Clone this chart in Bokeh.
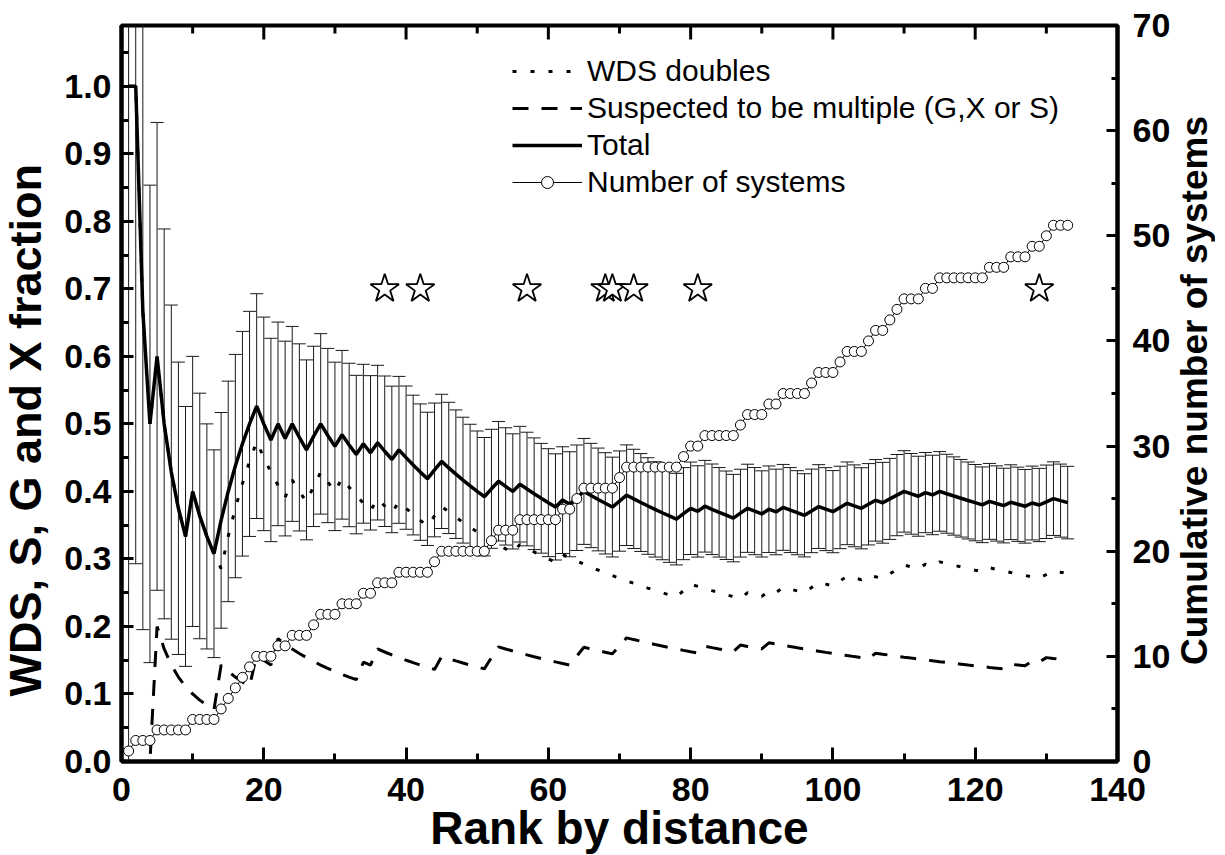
import numpy as np
from bokeh.plotting import figure
from bokeh.layouts import row
from bokeh.models import (Range1d, LinearAxis, FixedTicker, PrintfTickFormatter,
                          Legend, LegendItem, ColumnDataSource, Div)
from bokeh.embed import file_html
from bokeh.resources import INLINE

# ---------------- data ----------------
rank = list(range(1, 134))

# cumulative number of systems (right axis)
n_systems = [1, 2, 2, 2, 3, 3, 3, 3, 3, 4,
             4, 4, 4, 5, 6, 7, 8, 9, 10, 10,
             10, 11, 11, 12, 12, 12, 13, 14, 14, 14,
             15, 15, 15, 16, 16, 17, 17, 17, 18, 18,
             18, 18, 18, 19, 20, 20, 20, 20, 20, 20,
             20, 21, 22, 22, 22, 23, 23, 23, 23, 23,
             23, 24, 24, 25, 26, 26, 26, 26, 26, 27,
             28, 28, 28, 28, 28, 28, 28, 28, 29, 30,
             30, 31, 31, 31, 31, 31, 32, 33, 33, 33,
             34, 34, 35, 35, 35, 35, 36, 37, 37, 37,
             38, 39, 39, 39, 40, 41, 41, 42, 43, 44,
             44, 44, 45, 45, 46, 46, 46, 46, 46, 46,
             46, 47, 47, 47, 48, 48, 48, 49, 49, 50,
             51, 51, 51]

# cumulative number of WDS doubles
wds_counts = [1, 2, 2, 2, 3, 3, 3, 3, 3, 4,
              4, 4, 4, 4, 5, 6, 7, 8, 9, 9,
              9, 9, 9, 10, 10, 10, 11, 12, 12, 12,
              13, 13, 13, 13, 13, 14, 14, 14, 15, 15,
              15, 15, 15, 16, 17, 17, 17, 17, 17, 17,
              17, 17, 17, 17, 17, 18, 18, 18, 18, 18,
              18, 19, 19, 19, 19, 19, 19, 19, 19, 19,
              19, 19, 19, 19, 19, 19, 19, 19, 20, 21,
              21, 21, 21, 21, 21, 21, 21, 22, 22, 22,
              23, 23, 24, 24, 24, 24, 25, 26, 26, 26,
              27, 28, 28, 28, 29, 29, 29, 30, 31, 32,
              32, 32, 33, 33, 34, 34, 34, 34, 34, 34,
              34, 35, 35, 35, 35, 35, 35, 35, 35, 36,
              37, 37, 37]

# cumulative number suspected to be multiple (G, X or S)
suspected_counts = [0, 0, 0, 0, 1, 1, 1, 1, 1, 1,
                    1, 1, 1, 2, 2, 2, 2, 2, 3, 3,
                    3, 4, 4, 4, 4, 4, 4, 4, 4, 4,
                    4, 4, 4, 5, 5, 6, 6, 6, 6, 6,
                    6, 6, 6, 6, 7, 7, 7, 7, 7, 7,
                    7, 8, 9, 9, 9, 9, 9, 9, 9, 9,
                    9, 9, 9, 10, 11, 11, 11, 11, 11, 12,
                    13, 13, 13, 13, 13, 13, 13, 13, 13, 13,
                    13, 14, 14, 14, 14, 14, 15, 15, 15, 15,
                    16, 16, 16, 16, 16, 16, 16, 16, 16, 16,
                    16, 16, 16, 16, 16, 17, 17, 17, 17, 17,
                    17, 17, 17, 17, 17, 17, 17, 17, 17, 17,
                    17, 17, 17, 17, 18, 18, 18, 19, 19, 20,
                    20, 20, 20]

star_ranks = [37, 42, 57, 68, 69, 72, 81, 129]
star_level = [0.7, 0.7, 0.7, 0.7, 0.7, 0.7, 0.7, 0.7]

x_ticks = [0, 20, 40, 60, 80, 100, 120, 140]
x_minor = [10, 30, 50, 70, 90, 110, 130]
left_ticks = [0.0, 0.1, 0.2, 0.3, 0.4, 0.5, 0.6, 0.7, 0.8, 0.9, 1.0]
left_minor = [0.05, 0.15, 0.25, 0.35, 0.45, 0.55, 0.65, 0.75, 0.85, 0.95, 1.05]
right_ticks = [0, 10, 20, 30, 40, 50, 60, 70]
right_minor = [5, 15, 25, 35, 45, 55, 65]

# fractions are the cumulative counts divided by the rank (as in the source chart)
r = np.array(rank, dtype=float)
n_arr = np.array(n_systems, dtype=float)
total_frac = n_arr / r
wds_frac = np.array(wds_counts, dtype=float) / r
sus_frac = np.array(suspected_counts, dtype=float) / r
err = np.sqrt(n_arr) / r

src = ColumnDataSource(dict(rank=rank, total=total_frac, wds=wds_frac, sus=sus_frac,
                            up=total_frac + err, lo=total_frac - err, n=n_systems))

FONT = "Liberation Sans"
Y_TOP = 1.09
FRAME_W = 996
FRAME_H = 736
B_LEFT, B_RIGHT, B_TOP, B_BOTTOM = 71, 56, 25, 92
LEFT_DIV_W, RIGHT_DIV_W = 50, 42
FIG_H = B_TOP + FRAME_H + B_BOTTOM

p = figure(frame_width=FRAME_W, frame_height=FRAME_H,
           min_border_left=B_LEFT, min_border_right=B_RIGHT,
           min_border_top=B_TOP, min_border_bottom=B_BOTTOM,
           x_range=Range1d(0, 140), y_range=Range1d(0, Y_TOP),
           output_backend="svg", toolbar_location=None)
p.extra_y_ranges = {"n": Range1d(0, 70)}
p.grid.visible = False
p.outline_line_color = "black"
p.outline_line_width = 4
p.background_fill_color = "white"
p.border_fill_color = "white"

# error bars
p.segment(x0="rank", x1="rank", y0="lo", y1="up", source=src, line_color="#1a1a1a", line_width=1)
p.scatter(x="rank", y="up", source=src, marker="dash", size=13, line_color="#1a1a1a", line_width=1)
p.scatter(x="rank", y="lo", source=src, marker="dash", size=13, line_color="#1a1a1a", line_width=1)

r_wds = p.line(x="rank", y="wds", source=src, line_color="black", line_width=3, line_dash="4 14")
r_sus = p.line(x="rank", y="sus", source=src, line_color="black", line_width=3, line_dash="16 13")
r_tot = p.line(x="rank", y="total", source=src, line_color="black", line_width=3.5)
r_nl = p.line(x="rank", y="n", source=src, y_range_name="n", line_color="black", line_width=1)
r_nc = p.scatter(x="rank", y="n", source=src, y_range_name="n", marker="circle", size=10,
                 fill_color="white", line_color="black", line_width=1)

p.scatter(star_ranks, star_level, marker="star", size=30, fill_color="white",
          line_color="black", line_width=1.8)

# tick marks along the top edge (mirror of the bottom axis)
px_to_y = Y_TOP / FRAME_H
p.segment(x0=x_ticks, x1=x_ticks, y0=[Y_TOP] * len(x_ticks),
          y1=[Y_TOP - 14 * px_to_y] * len(x_ticks), line_color="black", line_width=3)
p.segment(x0=x_minor, x1=x_minor, y0=[Y_TOP] * len(x_minor),
          y1=[Y_TOP - 8 * px_to_y] * len(x_minor), line_color="black", line_width=3)


def style_axis(ax):
    ax.axis_line_width = 4
    ax.major_tick_line_width = 3
    ax.minor_tick_line_width = 3
    ax.major_tick_out = 0
    ax.minor_tick_out = 0
    ax.major_label_text_font = FONT
    ax.major_label_text_font_style = "bold"
    ax.major_label_text_font_size = "34px"
    ax.major_label_text_color = "black"
    ax.axis_label_text_font = FONT
    ax.axis_label_text_font_style = "bold"
    ax.axis_label_text_color = "black"


xa = p.xaxis[0]
style_axis(xa)
xa.ticker = FixedTicker(ticks=x_ticks, minor_ticks=x_minor)
xa.major_tick_in = 14
xa.minor_tick_in = 8
xa.major_label_standoff = 16
xa.axis_label = "Rank by distance"
xa.axis_label_text_font_size = "46px"
xa.axis_label_standoff = -2

ya = p.yaxis[0]
style_axis(ya)
ya.ticker = FixedTicker(ticks=left_ticks, minor_ticks=left_minor)
ya.formatter = PrintfTickFormatter(format="%.1f")
ya.major_tick_in = 12
ya.minor_tick_in = 7
ya.major_label_standoff = 10

ra = LinearAxis(y_range_name="n", ticker=FixedTicker(ticks=right_ticks, minor_ticks=right_minor))
style_axis(ra)
ra.major_tick_in = 11
ra.minor_tick_in = 6
ra.major_label_standoff = 15
p.add_layout(ra, "right")

legend = Legend(items=[LegendItem(label="WDS doubles", renderers=[r_wds]),
                       LegendItem(label="Suspected to be multiple (G,X or S)", renderers=[r_sus]),
                       LegendItem(label="Total", renderers=[r_tot]),
                       LegendItem(label="Number of systems", renderers=[r_nl, r_nc])],
                location=(391, 562), label_text_font=FONT, label_text_font_size="30px",
                label_text_color="black",
                glyph_width=70, glyph_height=30, label_height=30, spacing=3, padding=0,
                margin=0, label_standoff=5, border_line_color=None,
                background_fill_color=None)
p.add_layout(legend)


def vertical_title(text, size, shift, width):
    html = ("<div style=\"height:%dpx;margin-top:%dpx;width:%dpx;display:flex;"
            "align-items:center;justify-content:center;\">"
            "<span style=\"writing-mode:vertical-rl;transform:rotate(180deg);"
            "font-family:'Liberation Sans';font-weight:bold;font-size:%dpx;"
            "line-height:1;white-space:nowrap;color:black;position:relative;top:%dpx;\">%s</span></div>"
            % (FRAME_H, B_TOP, width, size, shift, text))
    return Div(text=html, width=width, height=FIG_H, margin=0)


left_title = vertical_title("WDS, S, G and X fraction", 45, 37, LEFT_DIV_W)
right_title = vertical_title("Cumulative number of systems", 37, -3, RIGHT_DIV_W)

layout = row(left_title, p, right_title, spacing=0)

open("out.html", "w").write(file_html(layout, INLINE))
